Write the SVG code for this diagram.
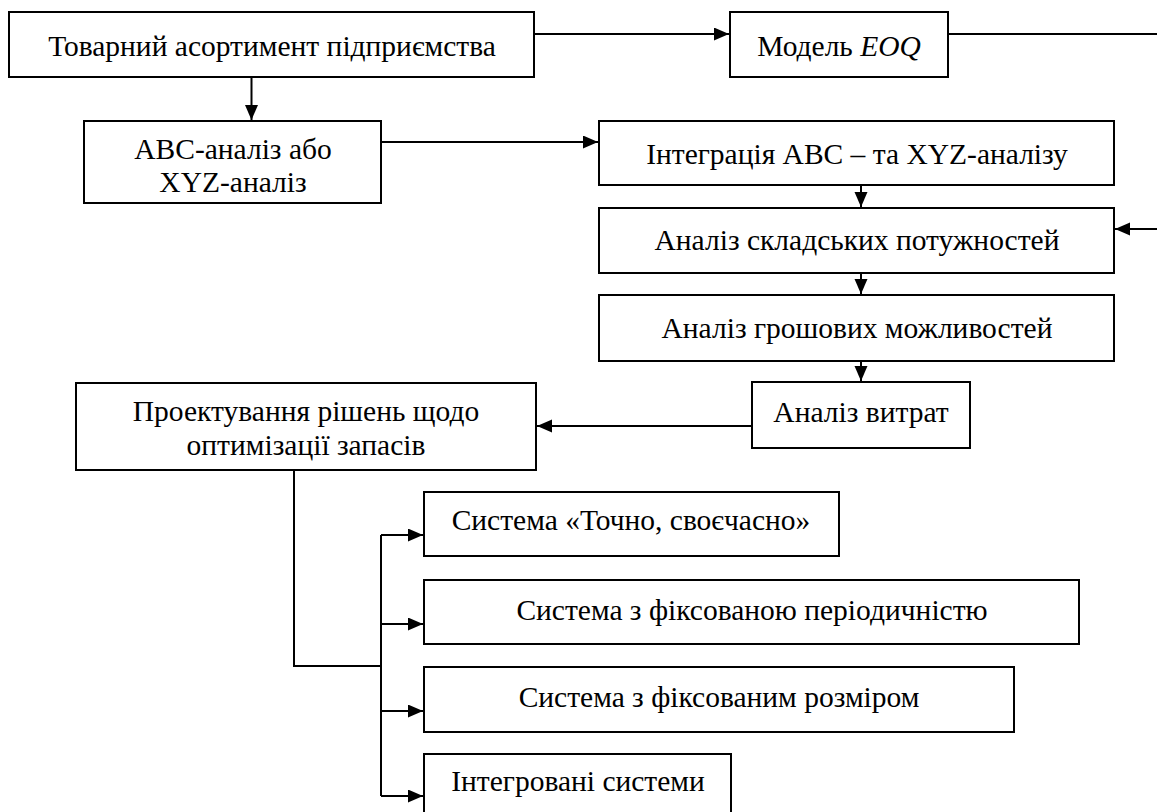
<svg xmlns="http://www.w3.org/2000/svg" width="1157" height="812" viewBox="0 0 1157 812">
<defs>
<marker id="arr" markerUnits="userSpaceOnUse" markerWidth="16" markerHeight="14" refX="15" refY="6.5" orient="auto">
<path d="M0,0 L15,6.5 L0,13 z" fill="#000"/>
</marker>
<style>
.b{fill:#fff;stroke:#000;stroke-width:2}
.t{font-size:29.5px;fill:#000;text-anchor:middle}
.c{fill:none;stroke:#000;stroke-width:2}
</style>
</defs>
<rect width="1157" height="812" fill="#fff"/>
<g id="connectors">
<path class="c" d="M534,34 H729" marker-end="url(#arr)"/>
<path class="c" d="M948,34 H1162 V229 H1115" marker-end="url(#arr)"/>
<path class="c" d="M251.5,77 V120" marker-end="url(#arr)"/>
<path class="c" d="M381,142 H598" marker-end="url(#arr)"/>
<path class="c" d="M861,185 V207" marker-end="url(#arr)"/>
<path class="c" d="M861,273 V294" marker-end="url(#arr)"/>
<path class="c" d="M861,361 V381" marker-end="url(#arr)"/>
<path class="c" d="M752,426 H537" marker-end="url(#arr)"/>
<path class="c" d="M294,470 V666 H381"/>
<path class="c" d="M381,535 V796"/>
<path class="c" d="M381,535 H423" marker-end="url(#arr)"/>
<path class="c" d="M381,624 H423" marker-end="url(#arr)"/>
<path class="c" d="M381,711 H423" marker-end="url(#arr)"/>
<path class="c" d="M381,796 H423" marker-end="url(#arr)"/>
</g>
<g font-family="Liberation Serif">
<g id="n1"><rect class="b" x="9" y="12" width="525" height="65"/><text class="t" x="272" y="56" font-family="Liberation Serif">Товарний асортимент підприємства</text></g>
<g id="n2"><rect class="b" x="730" y="12" width="218" height="65"/><text class="t" x="839" y="56" font-family="Liberation Serif">Модель <tspan font-style="italic">EOQ</tspan></text></g>
<g id="n3"><rect class="b" x="84" y="121" width="297" height="82"/><text class="t" x="233" y="159" font-family="Liberation Serif">АВС-аналіз або</text><text class="t" x="233" y="192" font-family="Liberation Serif">XYZ-аналіз</text></g>
<g id="n4"><rect class="b" x="599" y="121" width="515" height="64"/><text class="t" x="857" y="164" font-family="Liberation Serif">Інтеграція АВС – та XYZ-аналізу</text></g>
<g id="n5"><rect class="b" x="599" y="208" width="515" height="65"/><text class="t" x="857" y="250" font-family="Liberation Serif">Аналіз складських потужностей</text></g>
<g id="n6"><rect class="b" x="599" y="295" width="515" height="66"/><text class="t" x="857" y="338" font-family="Liberation Serif">Аналіз грошових можливостей</text></g>
<g id="n7"><rect class="b" x="752" y="382" width="218" height="66"/><text class="t" x="861" y="422" font-family="Liberation Serif">Аналіз витрат</text></g>
<g id="n8"><rect class="b" x="76" y="383" width="460" height="87"/><text class="t" x="306" y="421" font-family="Liberation Serif">Проектування рішень щодо</text><text class="t" x="306" y="455" font-family="Liberation Serif">оптимізації запасів</text></g>
<g id="n9"><rect class="b" x="424" y="492" width="415" height="64"/><text class="t" x="631" y="530" font-family="Liberation Serif">Система «Точно, своєчасно»</text></g>
<g id="n10"><rect class="b" x="424" y="580" width="655" height="64"/><text class="t" x="752" y="620" font-family="Liberation Serif">Система з фіксованою періодичністю</text></g>
<g id="n11"><rect class="b" x="424" y="667" width="590" height="65"/><text class="t" x="719" y="707" font-family="Liberation Serif">Система з фіксованим розміром</text></g>
<g id="n12"><rect class="b" x="424" y="754" width="307" height="65"/><text class="t" x="578" y="791" font-family="Liberation Serif">Інтегровані системи</text></g>
</g>
</svg>
